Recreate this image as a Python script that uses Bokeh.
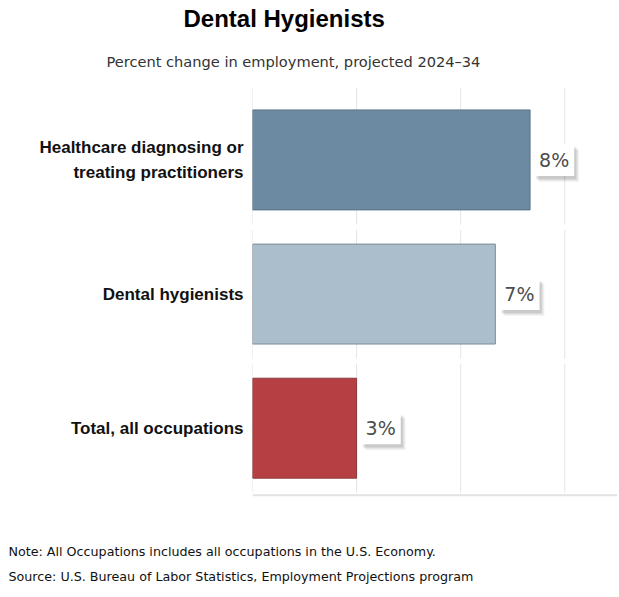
from bokeh.plotting import figure
from bokeh.models import ColumnDataSource, Title, FixedTicker, Range1d, Span
from bokeh.core.properties import value
from bokeh.embed import file_html
from bokeh.resources import INLINE

# ---- data ----
categories = ["Total, all occupations", "Dental hygienists",
              "Healthcare diagnosing or\ntreating practitioners"]
values = [3, 7, 8]
value_labels = ["3%", "7%", "8%"]
colors = ["#b53f42", "#abbecb", "#6c8aa2"]
outline_colors = ["#8a3a3c", "#7f8c96", "#5b7186"]
grid_ticks = [0, 3, 6, 9]

title_text = "Dental Hygienists"
subtitle_text = "Percent change in employment, projected 2024\u201334"
note_text = "Note: All Occupations includes all occupations in the U.S. Economy."
source_text = "Source: U.S. Bureau of Labor Statistics, Employment Projections program"

# ---- derived ----
n = len(categories)
ypos = [i + 0.5 for i in range(n)]
src = ColumnDataSource(dict(y=ypos, v=values, lab=value_labels, c=colors, lc=outline_colors))

p = figure(width=617, height=590, output_backend="svg", toolbar_location=None,
           x_range=Range1d(0, 10.52), y_range=Range1d(-0.30, n + 0.04),
           min_border_left=252, min_border_right=0, min_border_top=87, min_border_bottom=55)
p.outline_line_color = None
p.xgrid.visible = False
p.ygrid.visible = False

# broken vertical grid lines, one segment per category band
gx, gy0, gy1 = [], [], []
for i in range(n):
    for t in grid_ticks:
        gx.append(t)
        gy0.append(i + 0.02)
        gy1.append(i + (1.04 if i == n - 1 else 0.98))
p.segment(x0=gx, x1=gx, y0=gy0, y1=gy1, line_color="#e4e4e4", line_width=1)

# baseline under the bars
p.add_layout(Span(location=0, dimension="width", line_color="#e2e2e2", line_width=2))

p.hbar(y="y", right="v", left=0, height=0.745, source=src,
       fill_color="c", line_color="lc", line_width=1)

# label shadows
for dx, dy, a in [(5, 6, 0.04), (4, 5, 0.05), (3, 4, 0.06), (2, 3, 0.07)]:
    p.text(x="v", y="y", text="lab", source=src, x_offset=4 + dx, y_offset=dy,
           text_align="left", text_baseline="middle", text_font=value("DejaVu Sans"),
           text_font_size="19px", text_alpha=0, background_fill_color="#000000",
           background_fill_alpha=a, padding=5)
p.text(x="v", y="y", text="lab", source=src, x_offset=4, y_offset=0,
       text_align="left", text_baseline="middle", text_font=value("DejaVu Sans"),
       text_font_size="19px", text_color="#4d4d4d", background_fill_color="#ffffff",
       padding=5)

# axes
p.yaxis.ticker = FixedTicker(ticks=ypos)
p.yaxis.major_label_overrides = {y: c for y, c in zip(ypos, categories)}
p.yaxis.major_label_text_font = "Liberation Sans"
p.yaxis.major_label_text_font_style = "bold"
p.yaxis.major_label_text_font_size = "17px"
p.yaxis.major_label_text_color = "#111111"
p.yaxis.major_label_text_line_height = 1.3
p.yaxis.major_label_standoff = 3
p.yaxis.axis_line_color = None
p.yaxis.major_tick_line_color = None
p.yaxis.minor_tick_line_color = None
p.xaxis.visible = False

# titles
p.add_layout(Title(text=subtitle_text, text_font="DejaVu Sans", text_font_size="14.6px",
                   text_font_style="normal", text_color="#333333", align="left",
                   offset=-146, standoff=35, vertical_align="bottom"), "above")
p.add_layout(Title(text=title_text, text_font="Liberation Sans", text_font_size="24px",
                   text_font_style="bold", text_color="#000000", align="left",
                   offset=-69, standoff=0, vertical_align="top"), "above")

p.add_layout(Title(text=note_text, text_font="DejaVu Sans", text_font_size="12.7px",
                   text_font_style="normal", text_color="#111111", align="left",
                   offset=-244, standoff=16, vertical_align="top"), "below")
p.add_layout(Title(text=source_text, text_font="DejaVu Sans", text_font_size="12.7px",
                   text_font_style="normal", text_color="#111111", align="left",
                   offset=-244, standoff=0, vertical_align="top"), "below")

open("out.html", "w").write(file_html(p, INLINE))
